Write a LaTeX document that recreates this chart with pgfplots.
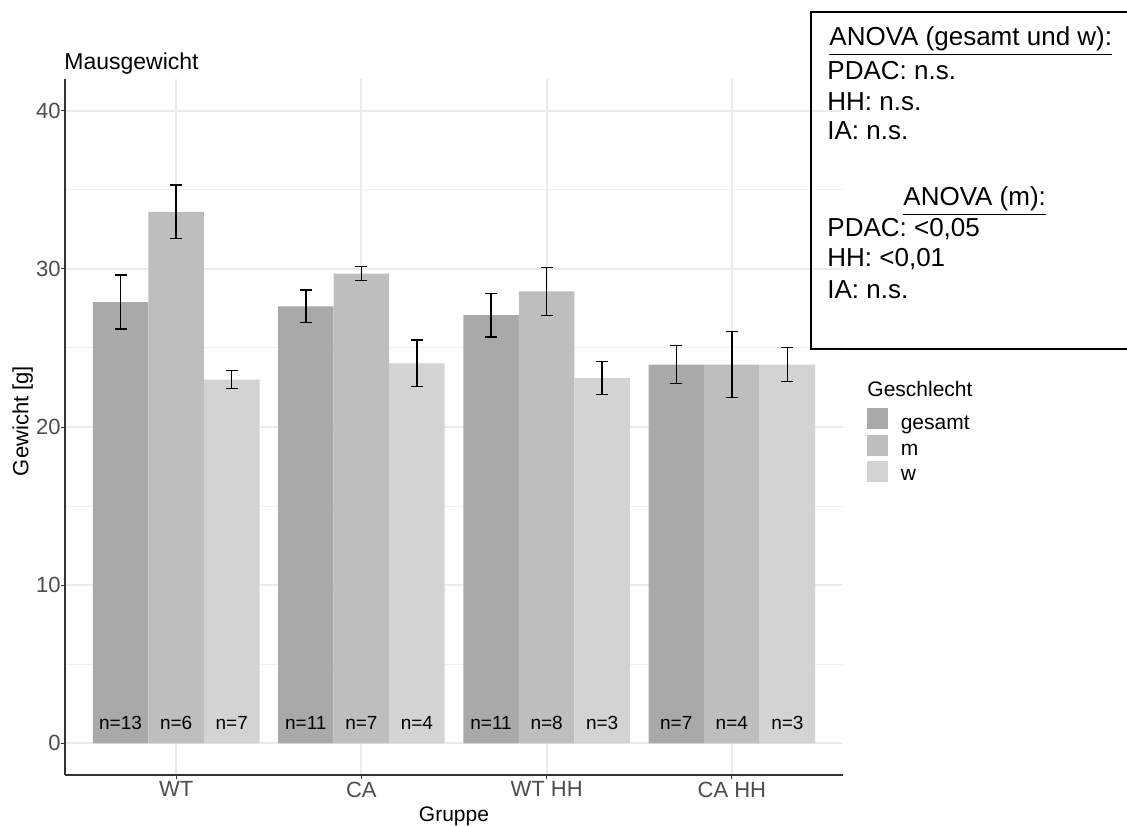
\documentclass[border=0pt]{standalone}
\usepackage{fontspec}
\setmainfont{Liberation Sans}
\usepackage{pgfplots}
\pgfplotsset{compat=1.18}
\definecolor{cg}{HTML}{A9A9A9}
\definecolor{cm}{HTML}{BEBEBE}
\definecolor{cw}{HTML}{D3D3D3}
\definecolor{gridc}{HTML}{EBEBEB}
\definecolor{tickc}{HTML}{4D4D4D}
\definecolor{axc}{HTML}{333333}
\pgfplotsset{sqlegend/.style={legend image code/.code={\fill[##1] (0pt,-2.6pt) rectangle (10.5pt,7.9pt);}}}
\begin{document}
\begin{tikzpicture}
\path[use as bounding box] (-32.5pt,-25pt) rectangle (531pt,387.5pt);
\begin{axis}[
  scale only axis, width=389pt, height=348pt,
  xmin=0.4, xmax=4.6, ymin=-2, ymax=42,
  axis x line*=bottom, axis y line*=left,
  axis line style={axc, line width=0.9pt, -},
  xtick={1,2,3,4}, xticklabels={WT,CA,WT HH,CA HH},
  ytick={0,10,20,30,40}, minor ytick={5,15,25,35},
  grid=both,
  major grid style={gridc, line width=1pt},
  minor grid style={gridc!70!white, line width=0.5pt},
  tick align=outside, major tick length=2pt, minor tick length=0pt,
  tick style={axc, line width=0.5pt},
  ticklabel style={font=\fontsize{11}{13}\selectfont, text=tickc},
  yticklabel style={anchor=east, inner sep=0pt},
  xticklabel style={anchor=north, inner sep=0pt, yshift=-1.2pt},
  /pgf/number format/assume math mode=true,
  xlabel={Gruppe}, ylabel={Gewicht [g]},
  every axis x label/.style={at={(axis description cs:0.5,-0.0671)}, anchor=base, font=\fontsize{10.5}{12}\selectfont},
  every axis y label/.style={at={(axis description cs:-0.047,0.5086)}, anchor=base, rotate=90, font=\fontsize{11}{13}\selectfont},
  legend style={at={(axis description cs:1.0308,0.5273)}, anchor=north west, draw=none, fill=none, inner sep=0pt, outer sep=0pt, row sep=1.5pt, font=\fontsize{10.5}{12}\selectfont, nodes={inner sep=0pt}},
  legend cell align=left,
  /tikz/every odd column/.append style={column sep=6.4pt},
  clip=false,
]
\addplot[ybar, bar width=0.3, bar shift=0, fill=cg, draw=none, sqlegend,
  error bars/.cd, y dir=both, y explicit,
  error bar style={black, line width=0.7pt},
  error mark options={rotate=90, mark size=3pt, black, line width=0.7pt}]
  table[x=x, y=y, y error=e] {
x y e
0.7 27.90 1.70
1.7 27.63 1.03
2.7 27.07 1.37
3.7 23.95 1.20
};
\addlegendentry{gesamt}
\addplot[ybar, bar width=0.3, bar shift=0, fill=cm, draw=none, sqlegend,
  error bars/.cd, y dir=both, y explicit,
  error bar style={black, line width=0.7pt},
  error mark options={rotate=90, mark size=3pt, black, line width=0.7pt}]
  table[x=x, y=y, y error=e] {
x y e
1 33.60 1.70
2 29.70 0.43
3 28.58 1.52
4 23.95 2.10
};
\addlegendentry{m}
\addplot[ybar, bar width=0.3, bar shift=0, fill=cw, draw=none, sqlegend,
  error bars/.cd, y dir=both, y explicit,
  error bar style={black, line width=0.7pt},
  error mark options={rotate=90, mark size=3pt, black, line width=0.7pt}]
  table[x=x, y=y, y error=e] {
x y e
1.3 23.00 0.57
2.3 24.03 1.47
3.3 23.10 1.03
4.3 23.95 1.08
};
\addlegendentry{w}
\addplot[draw=none, mark=none, forget plot, nodes near coords, point meta=explicit symbolic,
  every node near coord/.append style={font=\fontsize{9.5}{11}\selectfont, text=black, anchor=center, inner sep=0pt}]
  table[x=x, y=y, meta=n] {
x y n
0.7 1.3 n=13
1.0 1.3 n=6
1.3 1.3 n=7
1.7 1.3 n=11
2.0 1.3 n=7
2.3 1.3 n=4
2.7 1.3 n=11
3.0 1.3 n=8
3.3 1.3 n=3
3.7 1.3 n=7
4.0 1.3 n=4
4.3 1.3 n=3
};
\end{axis}
\node[anchor=base west, inner sep=0pt, font=\fontsize{11.5}{13}\selectfont] at (-0.5pt,352.85pt) {Mausgewicht};
\node[anchor=base west, inner sep=0pt, font=\fontsize{10.5}{12}\selectfont] at (401pt,189.5pt) {Geschlecht};
\draw[line width=0.75pt] (373pt,213pt) rectangle (537.5pt,381.5pt);
\begin{scope}[every node/.style={anchor=base west, inner sep=0pt, font=\fontsize{13}{15}\selectfont}]
\node at (382pt,364.5pt) {\underline{ANOVA (gesamt und w):}};
\node at (381pt,347.5pt) {PDAC: n.s.};
\node at (381pt,332pt) {HH: n.s.};
\node at (381pt,317.5pt) {IA: n.s.};
\node at (419pt,284.5pt) {\underline{ANOVA (m):}};
\node at (381pt,269pt) {PDAC: <0,05};
\node at (381pt,254pt) {HH: <0,01};
\node at (381pt,238pt) {IA: n.s.};
\end{scope}
\end{tikzpicture}
\end{document}
